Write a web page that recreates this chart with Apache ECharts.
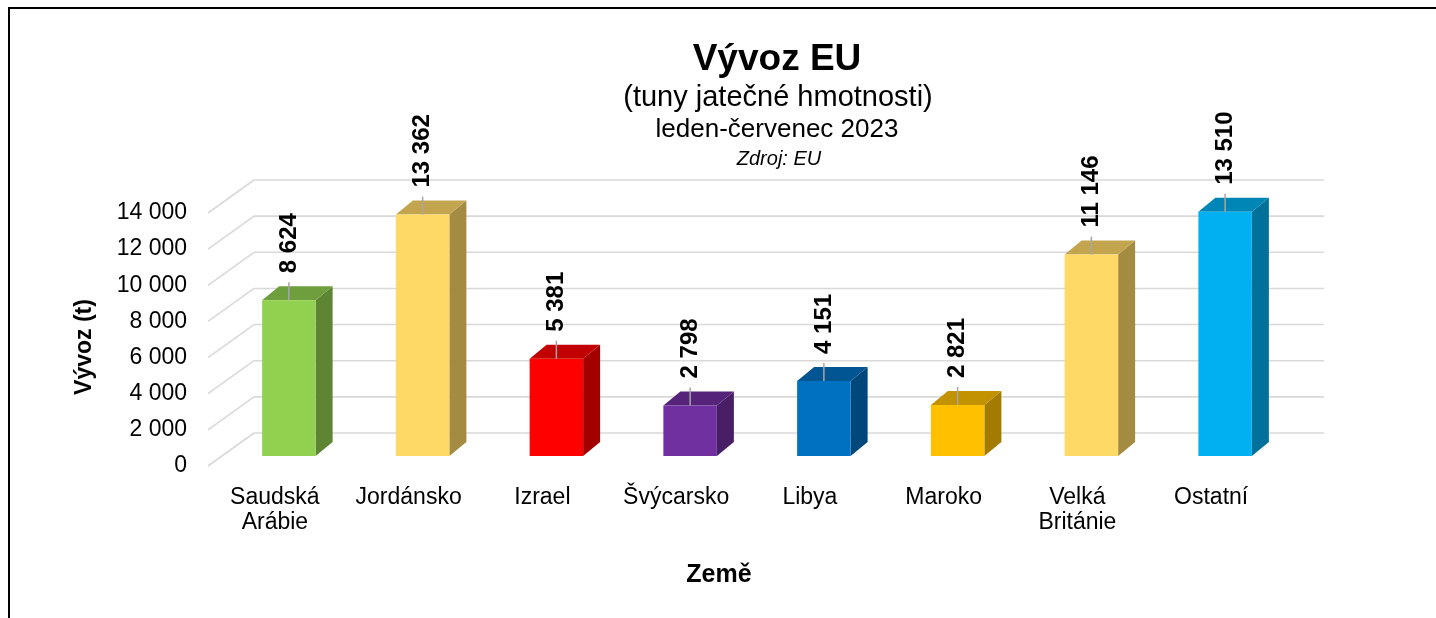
<!DOCTYPE html>
<html>
<head>
<meta charset="utf-8">
<script src="https://cdn.jsdelivr.net/npm/echarts@6/dist/echarts.min.js"></script>
<style>
html,body{margin:0;padding:0;background:#fff;}
#chart{width:1436px;height:618px;}
</style>
</head>
<body>
<div id="chart"></div>
<script>
// ---- data ----
const categories = ['Saudská\nArábie', 'Jordánsko', 'Izrael', 'Švýcarsko', 'Libya', 'Maroko', 'Velká\nBritánie', 'Ostatní'];
const values = [8624, 13362, 5381, 2798, 4151, 2821, 11146, 13510];
const barColors = ['#92D050', '#FFD966', '#FF0000', '#7030A0', '#0070C0', '#FFC000', '#FFD966', '#00B0F0'];
const yTicks = [0, 2000, 4000, 6000, 8000, 10000, 12000, 14000];
const titleText = 'Vývoz EU';
const subtitle1 = '(tuny jatečné hmotnosti)';
const subtitle2 = 'leden-červenec 2023';
const sourceText = 'Zdroj: EU';
const yAxisName = 'Vývoz (t)';
const xAxisName = 'Země';

// ---- style constants ----
const FONT = "'Liberation Sans', Arial, sans-serif";
const WALL_DX = 46, WALL_DY = -33;     // depth of back wall
const BAR_SHIFT_X = 14, BAR_SHIFT_Y = -10; // bar front face position in depth
const BAR_DX = 17, BAR_DY = -14;       // bar depth
const GRID_COLOR = '#D9D9D9';

function fmt(v) { return String(v).replace(/\B(?=(\d{3})+(?!\d))/g, ' '); }
function shade(hex, f) {
  const n = parseInt(hex.slice(1), 16);
  const r = Math.round(((n >> 16) & 255) * f), g = Math.round(((n >> 8) & 255) * f), b = Math.round((n & 255) * f);
  return 'rgb(' + r + ',' + g + ',' + b + ')';
}

const chart = echarts.init(document.getElementById('chart'), null, { renderer: 'canvas' });

const option = {
  backgroundColor: '#fff',
  animation: false,
  textStyle: { fontFamily: FONT },
  title: [
    { text: titleText, left: 777, top: 41, textAlign: 'center', padding: 0,
      textStyle: { fontSize: 37, fontWeight: 'bold', color: '#000', fontFamily: FONT } },
    { text: subtitle1, left: 778, top: 83, textAlign: 'center', padding: 0,
      textStyle: { fontSize: 29, fontWeight: 'normal', color: '#000', fontFamily: FONT } },
    { text: subtitle2, left: 777, top: 117, textAlign: 'center', padding: 0,
      textStyle: { fontSize: 26, fontWeight: 'normal', color: '#000', fontFamily: FONT } },
    { text: sourceText, left: 779, top: 149, textAlign: 'center', padding: 0,
      textStyle: { fontSize: 20, fontWeight: 'normal', fontStyle: 'italic', color: '#000', fontFamily: FONT } }
  ],
  graphic: [
    { type: 'rect', silent: true, z: 100,
      shape: { x: 9, y: 8, width: 1500, height: 700 },
      style: { fill: 'none', stroke: '#000', lineWidth: 2 } }
  ],
  grid: { left: 208, top: 213, width: 1070, height: 253 },
  xAxis: {
    type: 'category',
    data: categories,
    axisLine: { show: false },
    axisTick: { show: false },
    splitLine: { show: false },
    axisLabel: { color: '#000', fontSize: 23, lineHeight: 25, margin: 19, fontFamily: FONT, interval: 0 },
    name: xAxisName,
    nameLocation: 'middle',
    nameGap: 97,
    nameTextStyle: { color: '#000', fontSize: 25, fontWeight: 'bold', fontFamily: FONT, padding: [0, 48, 0, 0] }
  },
  yAxis: {
    type: 'value',
    min: 0, max: 14000, interval: 2000,
    axisLine: { show: false },
    axisTick: { show: false },
    splitLine: { show: false },
    axisLabel: { color: '#000', fontSize: 23, margin: 21, fontFamily: FONT, formatter: fmt },
    name: yAxisName,
    nameLocation: 'middle',
    nameGap: 112,
    nameTextStyle: { color: '#000', fontSize: 23, fontWeight: 'bold', fontFamily: FONT, padding: [0, 15, 0, 0] }
  },
  series: [
    {
      type: 'custom',
      name: 'grid3d',
      silent: true,
      clip: false,
      z: 1,
      data: yTicks.map(v => [0, v]),
      encode: { x: 0, y: 1 },
      renderItem: function (params, api) {
        const cs = params.coordSys;
        const y = api.coord([0, api.value(1)])[1];
        const st = { stroke: GRID_COLOR, lineWidth: 1.6 };
        return {
          type: 'group',
          children: [
            { type: 'line', shape: { x1: cs.x, y1: y, x2: cs.x + WALL_DX, y2: y + WALL_DY }, style: st },
            { type: 'line', shape: { x1: cs.x + WALL_DX, y1: y + WALL_DY, x2: cs.x + cs.width + WALL_DX, y2: y + WALL_DY }, style: st }
          ]
        };
      }
    },
    {
      type: 'custom',
      name: 'Vývoz',
      clip: false,
      z: 2,
      data: values.map((v, i) => [i, v]),
      encode: { x: 0, y: 1 },
      renderItem: function (params, api) {
        const i = api.value(0), v = api.value(1);
        const base = api.coord([i, 0]);
        const top = api.coord([i, v]);
        const w = api.size([1, 0])[0] * 0.4;
        const cx = base[0] + BAR_SHIFT_X;
        const x0 = cx - w / 2, x1 = cx + w / 2;
        const yb = base[1] + BAR_SHIFT_Y, yt = top[1] + BAR_SHIFT_Y;
        const c = barColors[i];
        return {
          type: 'group',
          children: [
            { type: 'polygon', shape: { points: [[x1, yt], [x1 + BAR_DX, yt + BAR_DY], [x1 + BAR_DX, yb + BAR_DY], [x1, yb]] },
              style: { fill: shade(c, 0.64) } },
            { type: 'polygon', shape: { points: [[x0, yt], [x0 + BAR_DX, yt + BAR_DY], [x1 + BAR_DX, yt + BAR_DY], [x1, yt]] },
              style: { fill: shade(c, 0.76) } },
            { type: 'rect', shape: { x: x0, y: yt, width: w, height: yb - yt }, style: { fill: c } },
            { type: 'line', shape: { x1: cx, y1: yt, x2: cx, y2: yt - 18 }, style: { stroke: '#A6A6A6', lineWidth: 1.5 } },
            { type: 'text', x: cx, y: yt - 27, rotation: Math.PI / 2,
              style: { text: fmt(v), fill: '#000', font: 'bold 24px ' + FONT, align: 'left', verticalAlign: 'middle' } }
          ]
        };
      }
    }
  ]
};
chart.setOption(option);
</script>
</body>
</html>
